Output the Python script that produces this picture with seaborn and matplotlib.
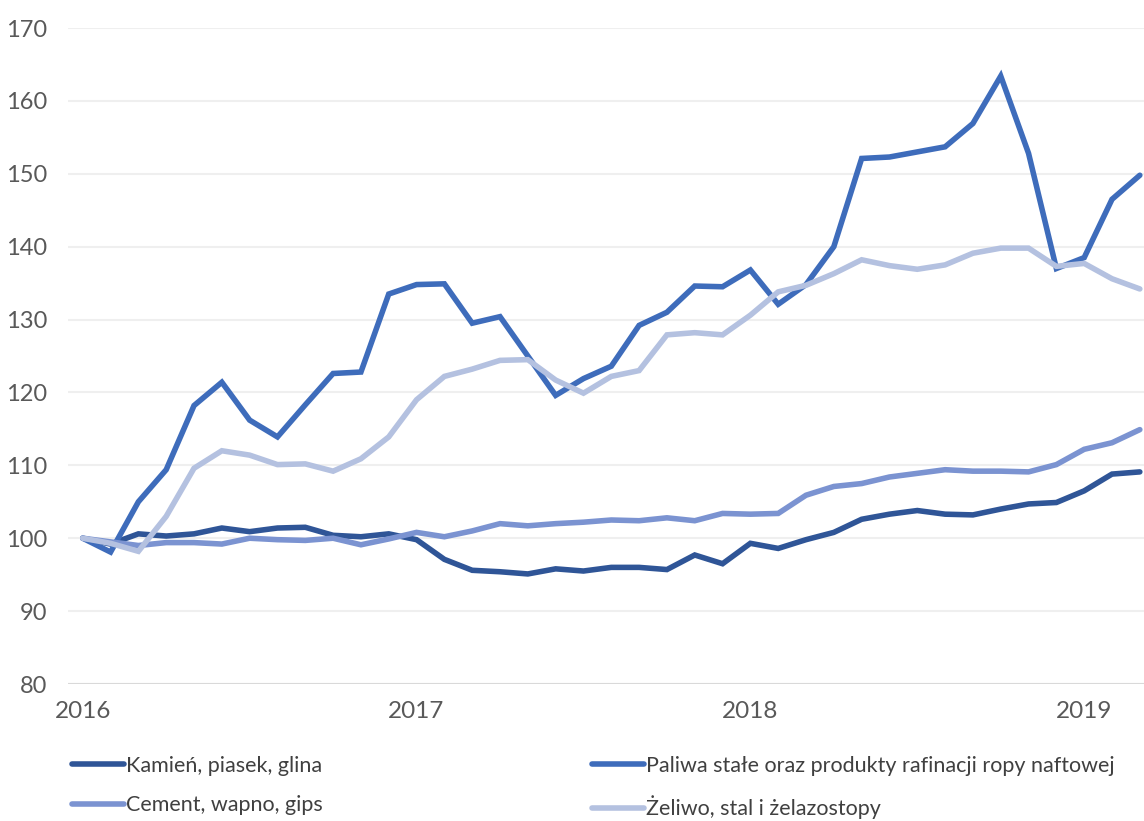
import matplotlib
matplotlib.use("Agg")
import matplotlib.pyplot as plt
import seaborn as sns
import pandas as pd
import numpy as np

# ---- data ----
months = list(range(39))  # Jan 2016 .. Mar 2019
year_ticks = [0, 12, 24, 36]
year_labels = ["2016", "2017", "2018", "2019"]

kamien = [100.0, 99.2, 100.6, 100.3, 100.6, 101.4, 100.9, 101.4, 101.5, 100.4, 100.2, 100.6,
          99.8, 97.1, 95.6, 95.4, 95.1, 95.8, 95.5, 96.0, 96.0, 95.7, 97.7, 96.5,
          99.3, 98.6, 99.8, 100.8, 102.6, 103.3, 103.8, 103.3, 103.2, 104.0, 104.7, 104.9,
          106.5, 108.8, 109.1]
paliwa = [100.0, 98.1, 105.0, 109.4, 118.2, 121.4, 116.2, 113.9, 118.3, 122.6, 122.8, 133.5,
          134.8, 134.9, 129.5, 130.4, 125.0, 119.6, 121.9, 123.6, 129.2, 131.0, 134.6, 134.5,
          136.8, 132.1, 134.8, 140.0, 152.1, 152.3, 153.0, 153.7, 156.9, 163.4, 152.8, 137.0,
          138.5, 146.5, 149.8]
cement = [100.0, 99.5, 99.0, 99.4, 99.4, 99.2, 100.0, 99.8, 99.7, 100.0, 99.1, 99.9,
          100.8, 100.2, 101.0, 102.0, 101.7, 102.0, 102.2, 102.5, 102.4, 102.8, 102.4, 103.4,
          103.3, 103.4, 105.9, 107.1, 107.5, 108.4, 108.9, 109.4, 109.2, 109.2, 109.1, 110.1,
          112.2, 113.1, 114.9]
zeliwo = [100.0, 99.3, 98.2, 103.0, 109.6, 112.0, 111.4, 110.1, 110.2, 109.2, 110.9, 113.9,
          119.0, 122.2, 123.2, 124.4, 124.5, 121.7, 119.9, 122.2, 123.0, 127.9, 128.2, 127.9,
          130.6, 133.8, 134.7, 136.3, 138.2, 137.4, 136.9, 137.5, 139.1, 139.8, 139.8, 137.3,
          137.7, 135.6, 134.2]

series_names = ["Kamień, piasek, glina",
                "Paliwa stałe oraz produkty rafinacji ropy naftowej",
                "Cement, wapno, gips",
                "Żeliwo, stal i żelazostopy"]
series_values = [kamien, paliwa, cement, zeliwo]
colors = ["#2F5597", "#3E6CBB", "#7B93D1", "#B4C1E0"]

y_ticks = [80, 90, 100, 110, 120, 130, 140, 150, 160, 170]

df = pd.DataFrame({
    "month": months * 4,
    "value": sum(series_values, []),
    "series": sum([[n] * len(months) for n in series_names], []),
})

sns.set_theme(style="white")
plt.rcParams["font.family"] = ["Lato", "DejaVu Sans"]

fig = plt.figure(figsize=(11.44, 8.21), dpi=100)
ax = fig.add_axes([68 / 1144, 1 - 684 / 821, 1 - 68 / 1144, (684 - 28) / 821])

sns.lineplot(data=df, x="month", y="value", hue="series", hue_order=series_names,
             palette=dict(zip(series_names, colors)), linewidth=4.0, ax=ax,
             legend=False, estimator=None, solid_joinstyle="miter")

ax.set_xlim(-0.53, 38.15)
ax.set_ylim(80, 170)
ax.set_yticks(y_ticks)
ax.set_xticks(year_ticks)
ax.set_xticklabels(year_labels)
ax.set_xlabel("")
ax.set_ylabel("")
for s in ax.spines.values():
    s.set_visible(False)
ax.grid(axis="y", color="#EFEFEF", linewidth=1.5, zorder=0)
ax.grid(axis="x", visible=False)
ax.set_axisbelow(True)
ax.axhline(80, color="#D9D9D9", linewidth=1.5, zorder=1)
ax.tick_params(axis="y", length=0, pad=15, labelsize=17, labelcolor="#595959")
ax.tick_params(axis="x", length=0, pad=12, labelsize=17.5, labelcolor="#595959")

from matplotlib.lines import Line2D
handles = [Line2D([0], [0], color=c, linewidth=4.0, solid_capstyle="round") for c in colors]

leg_kw = dict(frameon=False, fontsize=15.5, handlelength=2.4, handletextpad=0.1,
              labelspacing=0.9, borderpad=0, borderaxespad=0, loc="upper left",
              labelcolor="#404040")
leg1 = fig.legend([handles[0], handles[2]], [series_names[0], series_names[2]],
                  bbox_to_anchor=(72 / 1144, 1 - 756 / 821), **leg_kw)
leg2 = fig.legend([handles[1], handles[3]], [series_names[1], series_names[3]],
                  bbox_to_anchor=(592 / 1144, 1 - 756 / 821), **leg_kw)

fig.savefig("out.png", dpi=100)
